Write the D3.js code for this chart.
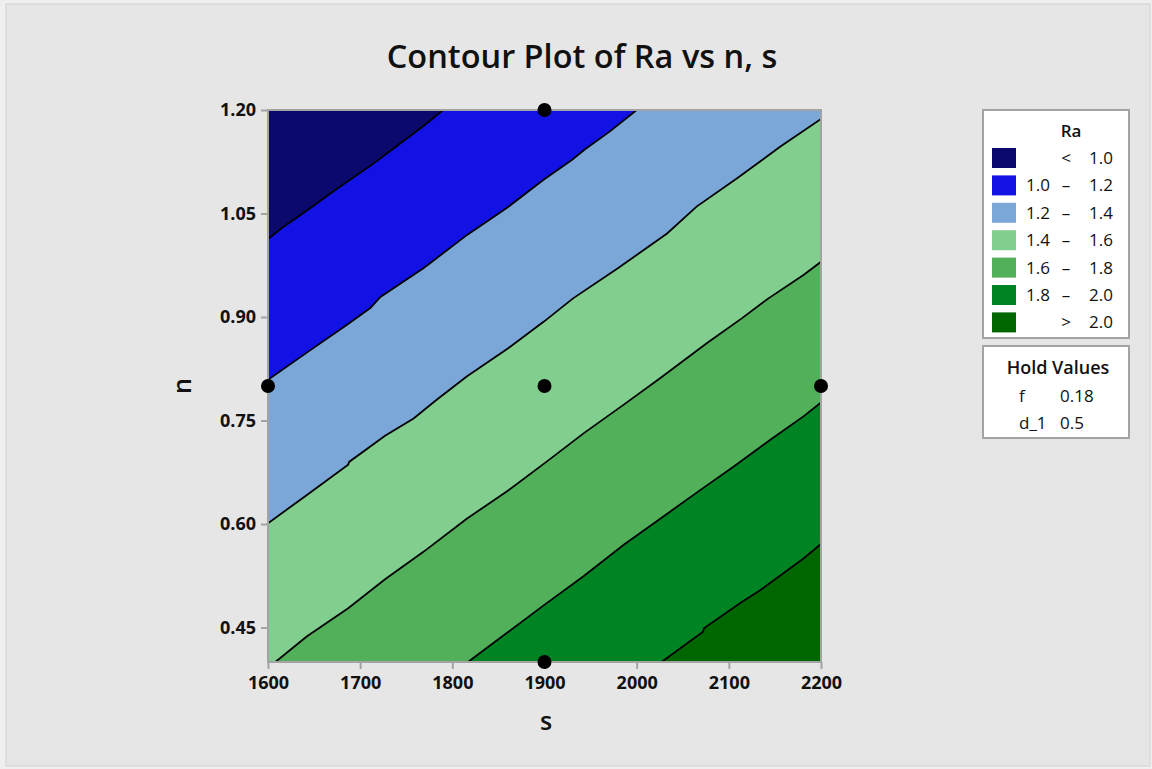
<!DOCTYPE html>
<html>
<head>
<meta charset="utf-8">
<script src="https://cdn.jsdelivr.net/npm/d3@7"></script>
<style>
body{margin:0;background:#efefef;}
text{font-family:"Open Sans","Noto Sans",sans-serif;fill:#111;}
</style>
</head>
<body>
<div id="chart"></div>
<script>
// contour levels and band colours (< 1.0 ... > 2.0)
var levels=[1.0,1.2,1.4,1.6,1.8,2.0];
var bandColors=["#0b0a6c","#1212e4","#7ba7d8","#82ce8f","#52af5a","#008423","#006600"];
var bandLo=["","1.0","1.2","1.4","1.6","1.8",""];
var bandMid=["<","\u2013","\u2013","\u2013","\u2013","\u2013",">"];
var bandHi=["1.0","1.2","1.4","1.6","1.8","2.0","2.0"];

// contour lines, [s, n]
var line10=[[1600,1.013],[1615,1.029],[1643,1.055],[1676,1.087],[1711,1.119],[1734,1.142],[1768,1.176],[1790,1.20]];
var line12=[[1600,0.809],[1646,0.852],[1685,0.888],[1711,0.913],[1722,0.929],[1769,0.971],[1816,1.019],[1859,1.058],[1899,1.099],[1930,1.128],[1944,1.143],[1971,1.169],[2000,1.20]];
var line14=[[1600,0.601],[1640,0.640],[1687,0.686],[1688,0.690],[1727,0.728],[1758,0.753],[1783,0.780],[1816,0.814],[1861,0.855],[1899,0.893],[1931,0.927],[1980,0.971],[2033,1.021],[2065,1.060],[2109,1.101],[2156,1.147],[2200,1.187]];
var line16=[[1608,0.40],[1642,0.437],[1687,0.478],[1727,0.520],[1769,0.560],[1816,0.608],[1859,0.647],[1902,0.690],[1942,0.731],[1986,0.773],[2025,0.811],[2076,0.862],[2114,0.898],[2143,0.927],[2181,0.961],[2200,0.980]];
var line18=[[1817,0.40],[1859,0.442],[1902,0.485],[1942,0.524],[1986,0.570],[2029,0.611],[2072,0.652],[2105,0.683],[2145,0.722],[2181,0.756],[2200,0.776]];
var line20=[[2027,0.40],[2072,0.444],[2073,0.449],[2114,0.487],[2134,0.504],[2181,0.550],[2200,0.571]];
var contourLines=[line10,line12,line14,line16,line18,line20];

// design points
var designS=[1900,1600,1900,2200,1900];
var designN=[1.20,0.80,0.80,0.80,0.40];

var xTicks=[1600,1700,1800,1900,2000,2100,2200];
var yTicks=[0.45,0.60,0.75,0.90,1.05,1.20];

var holdNames=["f","d_1"];
var holdValues=["0.18","0.5"];

var w=1152,h=769;
var svg=d3.select("#chart").append("svg").attr("width",w).attr("height",h);

svg.append("rect").attr("x",6).attr("y",4).attr("width",1144).attr("height",762)
	.attr("fill","#e6e6e6").attr("stroke","#d2d2d2").attr("stroke-width",1);

var x=d3.scaleLinear().domain([1600,2200]).range([268,821]);
var y=d3.scaleLinear().domain([0.40,1.20]).range([662,110]);

svg.append("defs").append("clipPath").attr("id","plotclip")
	.append("rect").attr("x",x(1600)).attr("y",y(1.20))
	.attr("width",x(2200)-x(1600)).attr("height",y(0.40)-y(1.20));

var plot=svg.append("g").attr("clip-path","url(#plotclip)");
plot.append("rect").attr("x",x(1600)).attr("y",y(1.20))
	.attr("width",x(2200)-x(1600)).attr("height",y(0.40)-y(1.20))
	.attr("fill",bandColors[0]);

var line=d3.line().x(function(d){return x(d[0]);}).y(function(d){return y(d[1]);});

//fill the region above each level (lower right side of its line)
contourLines.forEach(function(pts,i){
	var poly=pts.concat([[2200,1.20],[2200,0.40],[1600,0.40]]);
	plot.append("path").attr("d",line(poly)+"Z")
		.attr("fill",bandColors[i+1]).attr("stroke",bandColors[i+1]).attr("stroke-width",0.5);
});
contourLines.forEach(function(pts){
	plot.append("path").attr("d",line(pts))
		.attr("fill","none").attr("stroke","#000").attr("stroke-width",1.8);
});

//frame
svg.append("rect").attr("x",x(1600)).attr("y",y(1.20))
	.attr("width",x(2200)-x(1600)).attr("height",y(0.40)-y(1.20))
	.attr("fill","none").attr("stroke","#a3a3a3").attr("stroke-width",2);

//axes
var xAxis=svg.append("g").attr("transform","translate(0,"+y(0.40)+")")
	.call(d3.axisBottom(x).tickValues(xTicks).tickFormat(d3.format("d")).tickSize(7).tickPadding(5));
var yAxis=svg.append("g").attr("transform","translate("+x(1600)+",0)")
	.call(d3.axisLeft(y).tickValues(yTicks).tickFormat(d3.format(".2f")).tickSize(7).tickPadding(5));
[xAxis,yAxis].forEach(function(a){
	a.select(".domain").remove();
	a.selectAll(".tick line").attr("stroke","#a3a3a3").attr("stroke-width",2);
	a.selectAll(".tick text").attr("font-family","\"Open Sans\",sans-serif")
		.attr("font-size",18).attr("font-weight",700).attr("fill","#111");
});
xAxis.selectAll(".tick text").attr("dy","0.85em");

//design points
svg.append("g").selectAll("circle").data(designS).enter().append("circle")
	.attr("cx",function(d){return x(d);})
	.attr("cy",function(d,i){return y(designN[i]);})
	.attr("r",7).attr("fill","#000");

//titles
svg.append("text").attr("x",582).attr("y",68).attr("text-anchor","middle")
	.attr("font-size",32.5).attr("font-weight",600).text("Contour Plot of Ra vs n, s");
svg.append("text").attr("x",546).attr("y",730).attr("text-anchor","middle")
	.attr("font-size",25).attr("font-weight",600).text("s");
svg.append("text").attr("transform","translate(191,386) rotate(-90)").attr("text-anchor","middle")
	.attr("font-size",25).attr("font-weight",600).text("n");

//legend
var leg=svg.append("g");
leg.append("rect").attr("x",983).attr("y",110).attr("width",146).attr("height",228)
	.attr("fill","#fff").attr("stroke","#a3a3a3").attr("stroke-width",2);
leg.append("text").attr("x",1071).attr("y",137).attr("text-anchor","middle")
	.attr("font-size",17).attr("font-weight",600).text("Ra");
bandColors.forEach(function(c,i){
	var cy=158+i*27.4;
	leg.append("rect").attr("x",992).attr("y",cy-10).attr("width",24).attr("height",20).attr("fill",c);
	leg.append("text").attr("x",1050).attr("y",cy+6).attr("text-anchor","end")
		.attr("font-size",17).text(bandLo[i]);
	leg.append("text").attr("x",1066).attr("y",cy+6).attr("text-anchor","middle")
		.attr("font-size",17).text(bandMid[i]);
	leg.append("text").attr("x",1113).attr("y",cy+6).attr("text-anchor","end")
		.attr("font-size",17).text(bandHi[i]);
});
leg.append("rect").attr("x",983).attr("y",346).attr("width",146).attr("height",92)
	.attr("fill","#fff").attr("stroke","#a3a3a3").attr("stroke-width",2);
leg.append("text").attr("x",1058).attr("y",374).attr("text-anchor","middle")
	.attr("font-size",18).attr("font-weight",600).text("Hold Values");
holdNames.forEach(function(nm,i){
	leg.append("text").attr("x",1019).attr("y",402+i*27).attr("font-size",17).text(nm);
	leg.append("text").attr("x",1060).attr("y",402+i*27).attr("font-size",17).text(holdValues[i]);
});
</script>
</body>
</html>
